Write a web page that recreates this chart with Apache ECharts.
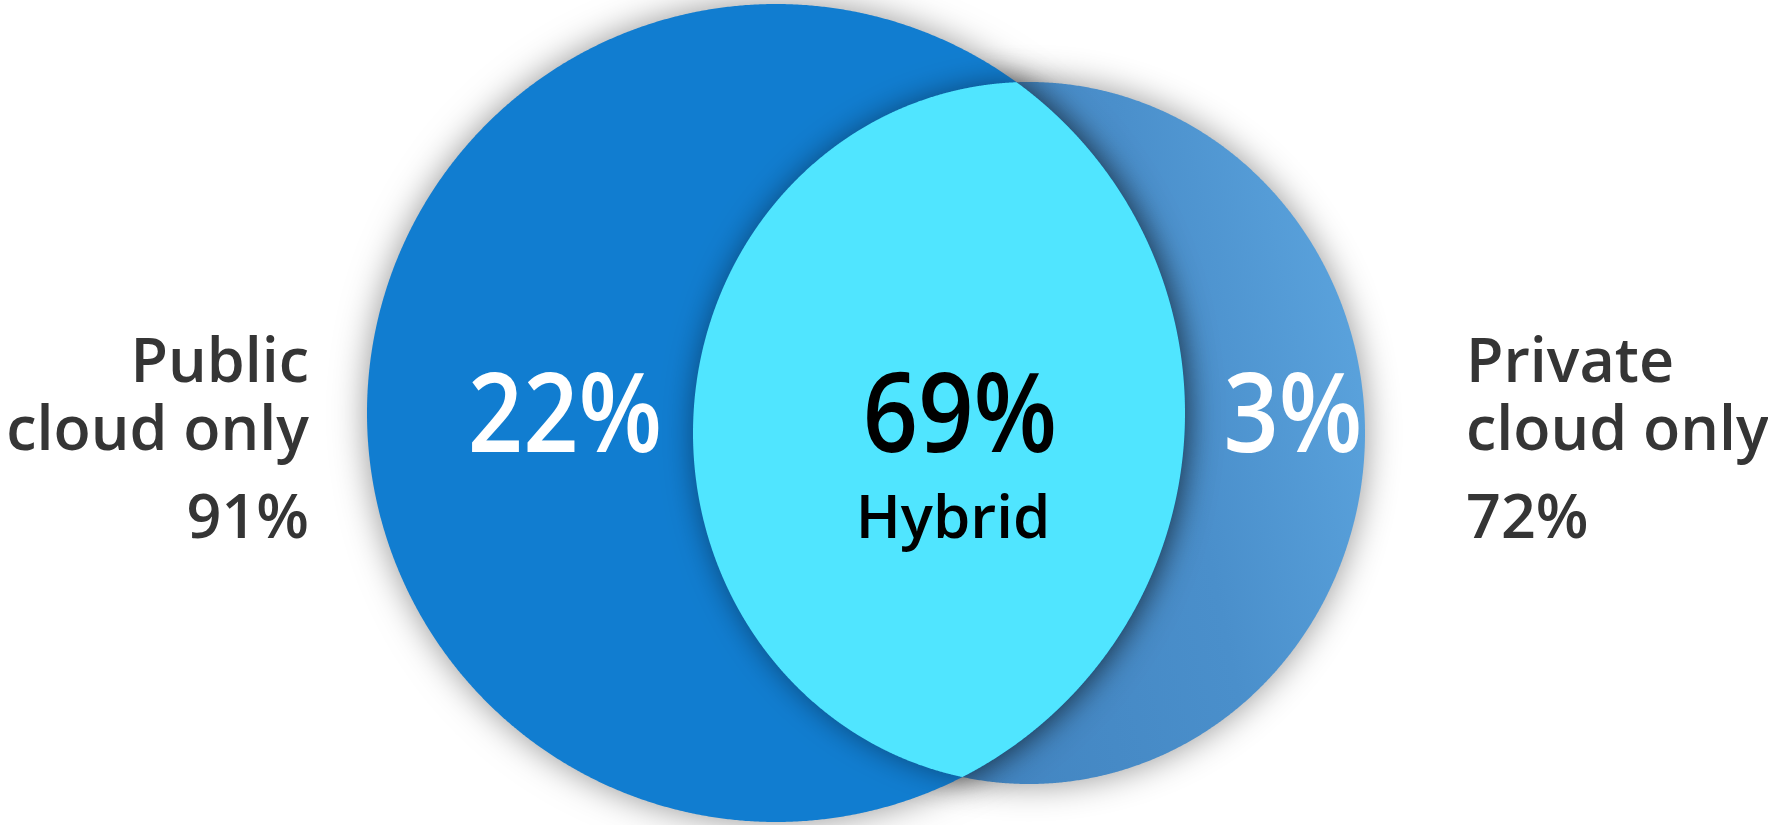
<!DOCTYPE html>
<html>
<head>
<meta charset="utf-8">
<script src="https://cdn.jsdelivr.net/npm/echarts@6/dist/echarts.min.js"></script>
<style>
html,body{margin:0;padding:0;background:#ffffff;}
#main{width:1768px;height:825px;}
</style>
</head>
<body>
<div id="main"></div>
<script>
// ---------- DATA ----------
const setNames = ['Public cloud only', 'Private cloud only'];
const setTitleLines = [['Public', 'cloud only'], ['Private', 'cloud only']];
const setTotals = [91, 72];
const regionNames = ['Public cloud only', 'Hybrid', 'Private cloud only'];
const regionValues = [22, 69, 3];

// ---------- LAYOUT (axis units) ----------
const SHAPES = [
  { cx: 776, cy: 413, rx: 409, ry: 409 },   // public
  { cx: 1029, cy: 433, rx: 336, ry: 351 }   // private
];
const REGION_POS = [ [565, 453], [960, 453], [1293, 453] ];
const HYBRID_TAG_POS = [953, 539];
const SET_LABEL_POS = [
  { x: 309, align: 'right', baselines: [383, 451, 539] },
  { x: 1466, align: 'left', baselines: [383, 451, 539] }
];

const FONT = '"Open Sans", "Noto Sans", sans-serif';
const MID = 0.295; // middle-to-baseline ratio for the font

function ellipsePts(L, n) {
  const pts = [];
  for (let k = 0; k < n; k++) {
    const t = 2 * Math.PI * k / n;
    pts.push([L.cx + L.rx * Math.cos(t), L.cy + L.ry * Math.sin(t)]);
  }
  return pts;
}
function inside(L, p) {
  const dx = (p[0] - L.cx) / L.rx, dy = (p[1] - L.cy) / L.ry;
  return dx * dx + dy * dy <= 1;
}
function lensPts() {
  const a = ellipsePts(SHAPES[0], 2880).filter(p => inside(SHAPES[1], p));
  const b = ellipsePts(SHAPES[1], 2880).filter(p => inside(SHAPES[0], p));
  const all = a.concat(b);
  let mx = 0, my = 0;
  all.forEach(p => { mx += p[0]; my += p[1]; });
  mx /= all.length; my /= all.length;
  all.sort((p, q) => Math.atan2(p[1] - my, p[0] - mx) - Math.atan2(q[1] - my, q[0] - mx));
  return all;
}

const fills = [
  '#117dd0',
  new echarts.graphic.LinearGradient(0, 0.6, 1, 0.4, [
    { offset: 0, color: '#3b7cb8' },
    { offset: 0.72, color: '#4a8fcb' },
    { offset: 1, color: '#5aa2dc' }
  ])
];

const chart = echarts.init(document.getElementById('main'), null, { renderer: 'canvas' });

const option = {
  animation: false,
  backgroundColor: '#ffffff',
  grid: { left: 0, right: 0, top: 0, bottom: 0, containLabel: false },
  xAxis: { type: 'value', min: 0, max: 1768, show: false },
  yAxis: { type: 'value', min: 0, max: 825, inverse: true, show: false },
  series: [
    {
      type: 'custom',
      name: 'sets',
      z: 2,
      data: setTotals.map((v, i) => ({ name: setNames[i], value: [i, v] })),
      renderItem: function (params, api) {
        const i = api.value(0);
        const pts = ellipsePts(SHAPES[i], 1440).map(p => api.coord(p));
        return {
          type: 'polygon',
          z2: i === 0 ? 20 : 10,
          shape: { points: pts },
          style: {
            fill: fills[i],
            shadowBlur: 34,
            shadowColor: 'rgba(0,0,0,0.42)'
          }
        };
      }
    },
    {
      type: 'custom',
      name: 'overlap',
      z: 3,
      data: [{ name: regionNames[1], value: [1, regionValues[1]] }],
      renderItem: function (params, api) {
        const pts = lensPts().map(p => api.coord(p));
        return {
          type: 'polygon',
          shape: { points: pts },
          style: {
            fill: '#50e5ff',
            shadowBlur: 30,
            shadowColor: 'rgba(0,0,0,0.42)'
          }
        };
      }
    },
    {
      type: 'custom',
      name: 'regionLabels',
      z: 4,
      data: regionValues.map((v, i) => ({ name: regionNames[i], value: [i, v] })),
      renderItem: function (params, api) {
        const i = api.value(0);
        const v = api.value(1);
        const fs = 110;
        const c = api.coord([REGION_POS[i][0], REGION_POS[i][1] - MID * fs]);
        const children = [{
          type: 'text',
          x: c[0], y: c[1],
          scaleX: 0.88,
          style: {
            text: v + '%',
            fill: i === 1 ? '#000000' : '#ffffff',
            fontSize: fs,
            fontFamily: FONT,
            fontWeight: i === 1 ? 600 : 550,
            align: 'center',
            verticalAlign: 'middle'
          }
        }];
        if (i === 1) {
          const fs2 = 60;
          const c2 = api.coord([HYBRID_TAG_POS[0], HYBRID_TAG_POS[1] - MID * fs2]);
          children.push({
            type: 'text',
            x: c2[0], y: c2[1],
            style: {
              text: regionNames[1],
              fill: '#000000',
              fontSize: fs2,
              fontFamily: FONT,
              fontWeight: 600,
              align: 'center',
              verticalAlign: 'middle'
            }
          });
        }
        return { type: 'group', children: children };
      }
    },
    {
      type: 'custom',
      name: 'setLabels',
      z: 4,
      data: setTotals.map((v, i) => ({ name: setNames[i], value: [i, v] })),
      renderItem: function (params, api) {
        const i = api.value(0);
        const v = api.value(1);
        const P = SET_LABEL_POS[i];
        const fs = 61;
        const lines = setTitleLines[i].concat([v + '%']);
        return {
          type: 'group',
          children: lines.map((t, k) => {
            const c = api.coord([P.x, P.baselines[k] - MID * fs]);
            return {
              type: 'text',
              x: c[0], y: c[1],
              style: {
                text: t,
                fill: '#353535',
                fontSize: fs,
                fontFamily: FONT,
                fontWeight: 600,
                align: P.align,
                verticalAlign: 'middle'
              }
            };
          })
        };
      }
    }
  ]
};
chart.setOption(option);
</script>
</body>
</html>
